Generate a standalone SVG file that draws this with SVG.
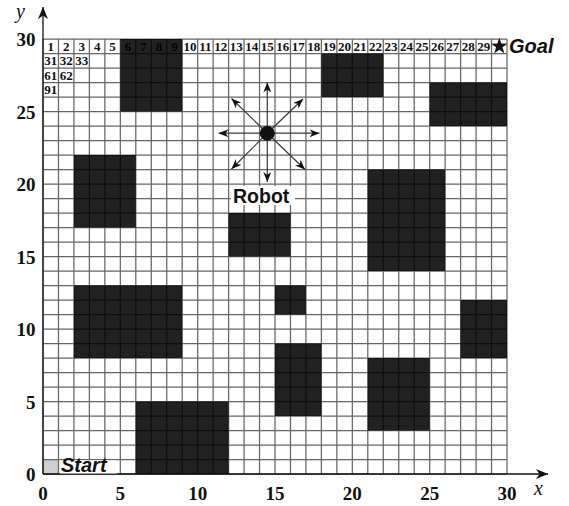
<svg xmlns="http://www.w3.org/2000/svg" width="569" height="506" viewBox="0 0 569 506">
<defs>
<style>
.gl{stroke:#666;stroke-width:1.25;fill:none}
.obs{fill:#000;fill-opacity:0.87}
.num{font-family:"Liberation Serif",serif;font-weight:bold;font-size:13px;text-anchor:middle;fill:#111}
.tick{font-family:"Liberation Serif",serif;font-weight:bold;font-size:19px;fill:#111}
.tx{text-anchor:middle}
.ty{text-anchor:end}
.ax{stroke:#111;stroke-width:1.3;fill:none}
.lab{font-family:"Liberation Serif",serif;font-style:italic;font-size:20px;fill:#111}
.bi{font-family:"Liberation Sans",Arial,sans-serif;font-weight:bold;font-style:italic;font-size:20px;fill:#111}
.rb{font-family:"Liberation Sans",Arial,sans-serif;font-weight:bold;font-size:19.5px;fill:#111}
.mv{stroke:#3a3a3a;stroke-width:1.2;fill:none}
</style>
<marker id="ah" viewBox="0 0 10 8" refX="10" refY="4" markerWidth="10" markerHeight="8" markerUnits="userSpaceOnUse" orient="auto"><path d="M0,0 L10,4 L0,8 L3,4 z" fill="#111"/></marker>
<marker id="axh" viewBox="0 0 12 10" refX="12" refY="5" markerWidth="12" markerHeight="10" markerUnits="userSpaceOnUse" orient="auto"><path d="M0,0 L12,5 L0,10 L3.5,5 z" fill="#111"/></marker>
</defs>
<rect width="569" height="506" fill="#fff"/>
<g id="start-cell"><rect x="43" y="459.5" width="15.47" height="14.5" fill="#cfcfcf"/></g>
<g id="cell-numbers">
<text class="num" x="50.73" y="50.5">1</text><text class="num" x="66.2" y="50.5">2</text><text class="num" x="81.67" y="50.5">3</text><text class="num" x="97.13" y="50.5">4</text><text class="num" x="112.6" y="50.5">5</text><text class="num" x="128.07" y="50.5">6</text><text class="num" x="143.53" y="50.5">7</text><text class="num" x="159" y="50.5">8</text><text class="num" x="174.47" y="50.5">9</text><text class="num" x="189.93" y="50.5">10</text><text class="num" x="205.4" y="50.5">11</text><text class="num" x="220.87" y="50.5">12</text><text class="num" x="236.33" y="50.5">13</text><text class="num" x="251.8" y="50.5">14</text><text class="num" x="267.27" y="50.5">15</text><text class="num" x="282.73" y="50.5">16</text><text class="num" x="298.2" y="50.5">17</text><text class="num" x="313.67" y="50.5">18</text><text class="num" x="329.13" y="50.5">19</text><text class="num" x="344.6" y="50.5">20</text><text class="num" x="360.07" y="50.5">21</text><text class="num" x="375.53" y="50.5">22</text><text class="num" x="391" y="50.5">23</text><text class="num" x="406.47" y="50.5">24</text><text class="num" x="421.93" y="50.5">25</text><text class="num" x="437.4" y="50.5">26</text><text class="num" x="452.87" y="50.5">27</text><text class="num" x="468.33" y="50.5">28</text><text class="num" x="483.8" y="50.5">29</text>
<text class="num" x="50.73" y="65">31</text><text class="num" x="66.2" y="65">32</text><text class="num" x="81.67" y="65">33</text>
<text class="num" x="50.73" y="79.5">61</text><text class="num" x="66.2" y="79.5">62</text>
<text class="num" x="50.73" y="94">91</text>
</g>
<g id="grid">
<path class="gl" d="M43 39V474M58.47 39V474M73.93 39V474M89.4 39V474M104.87 39V474M120.33 39V474M135.8 39V474M151.27 39V474M166.73 39V474M182.2 39V474M197.67 39V474M213.13 39V474M228.6 39V474M244.07 39V474M259.53 39V474M275 39V474M290.47 39V474M305.93 39V474M321.4 39V474M336.87 39V474M352.33 39V474M367.8 39V474M383.27 39V474M398.73 39V474M414.2 39V474M429.67 39V474M445.13 39V474M460.6 39V474M476.07 39V474M491.53 39V474M507 39V474"/>
<path class="gl" d="M43 474H507M43 459.5H507M43 445H507M43 430.5H507M43 416H507M43 401.5H507M43 387H507M43 372.5H507M43 358H507M43 343.5H507M43 329H507M43 314.5H507M43 300H507M43 285.5H507M43 271H507M43 256.5H507M43 242H507M43 227.5H507M43 213H507M43 198.5H507M43 184H507M43 169.5H507M43 155H507M43 140.5H507M43 126H507M43 111.5H507M43 97H507M43 82.5H507M43 68H507M43 53.5H507M43 39H507"/>
</g>
<g id="obstacles">
<rect class="obs" x="120.33" y="39" width="61.87" height="72.5"/>
<rect class="obs" x="321.4" y="53.5" width="61.87" height="43.5"/>
<rect class="obs" x="429.67" y="82.5" width="77.33" height="43.5"/>
<rect class="obs" x="73.93" y="155" width="61.87" height="72.5"/>
<rect class="obs" x="228.6" y="213" width="61.87" height="43.5"/>
<rect class="obs" x="367.8" y="169.5" width="77.33" height="101.5"/>
<rect class="obs" x="73.93" y="285.5" width="108.27" height="72.5"/>
<rect class="obs" x="275" y="285.5" width="30.93" height="29"/>
<rect class="obs" x="460.6" y="300" width="46.4" height="58"/>
<rect class="obs" x="275" y="343.5" width="46.4" height="72.5"/>
<rect class="obs" x="367.8" y="358" width="61.87" height="72.5"/>
<rect class="obs" x="135.8" y="401.5" width="92.8" height="72.5"/>
</g>
<g id="axes">
<path class="ax" d="M43 474V7" marker-end="url(#axh)"/>
<path class="ax" d="M43 474H548" marker-end="url(#axh)"/>
<text class="lab" x="16" y="18">y</text>
<text class="lab" x="534" y="495">x</text>
<text class="tick tx" x="43" y="500">0</text><text class="tick tx" x="120.33" y="500">5</text><text class="tick tx" x="197.67" y="500">10</text><text class="tick tx" x="275" y="500">15</text><text class="tick tx" x="352.33" y="500">20</text><text class="tick tx" x="429.67" y="500">25</text><text class="tick tx" x="507" y="500">30</text>
<text class="tick ty" x="35.5" y="481">0</text><text class="tick ty" x="35.5" y="408.5">5</text><text class="tick ty" x="35.5" y="336">10</text><text class="tick ty" x="35.5" y="263.5">15</text><text class="tick ty" x="35.5" y="191">20</text><text class="tick ty" x="35.5" y="118.5">25</text><text class="tick ty" x="35.5" y="46">30</text>
</g>
<g id="connectors">
<path class="mv" d="M267.3 133.2L267.3 82.5" marker-end="url(#ah)"/>
<path class="mv" d="M267.3 133.2L267.3 182" marker-end="url(#ah)"/>
<path class="mv" d="M267.3 133.2L218.5 133.2" marker-end="url(#ah)"/>
<path class="mv" d="M267.3 133.2L319.5 133.2" marker-end="url(#ah)"/>
<path class="mv" d="M267.3 133.2L231.5 98.5" marker-end="url(#ah)"/>
<path class="mv" d="M267.3 133.2L303 99" marker-end="url(#ah)"/>
<path class="mv" d="M267.3 133.2L231.5 169" marker-end="url(#ah)"/>
<path class="mv" d="M267.3 133.2L305 169.5" marker-end="url(#ah)"/>
</g>
<g id="robot">
<circle cx="267.3" cy="133.2" r="7.5" fill="#111"/>
<rect x="231" y="186" width="64" height="19" fill="#fff"/>
<text class="rb" x="233" y="203">Robot</text>
</g>
<g id="start">
<rect x="60" y="460.5" width="57" height="13" fill="#fff"/>
<text class="bi" x="61" y="472">Start</text>
</g>
<g id="goal">
<polygon points="499.3,37.8 501.3,43.55 507.38,43.67 502.53,47.35 504.3,53.18 499.3,49.7 494.3,53.18 496.07,47.35 491.22,43.67 497.3,43.55" fill="#111"/>
<text class="bi" x="509" y="53">Goal</text>
</g>
</svg>
